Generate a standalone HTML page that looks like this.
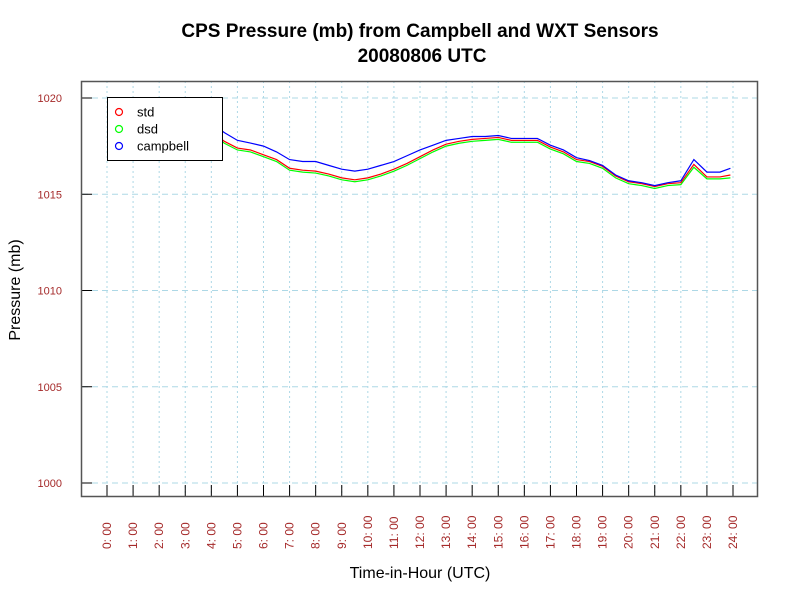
<!DOCTYPE html>
<html><head><meta charset="utf-8"><style>
body{margin:0;background:#fff;}
svg{display:block;font-family:"Liberation Sans",sans-serif;}
</style></head><body>
<svg id="c" width="800" height="600">
<text x="420" y="37" text-anchor="middle" font-size="19" font-weight="bold">CPS Pressure (mb) from Campbell and WXT Sensors</text>
<text x="422" y="62" text-anchor="middle" font-size="19" font-weight="bold">20080806  UTC</text>
<text transform="translate(20,290) rotate(-90)" text-anchor="middle" font-size="16">Pressure (mb)</text>
<text x="420" y="578" text-anchor="middle" font-size="16">Time-in-Hour (UTC)</text>
<g id="grid"></g><g id="series"></g><g id="axes"></g>
</svg>
<script>
const hours=[0,0.5,1,1.5,2,2.5,3,3.4,3.75,4,4.5,5,5.5,6,6.5,7,7.5,8,8.5,9,9.5,10,10.5,11,11.5,12,12.5,13,13.5,14,14.5,15,15.5,16,16.5,17,17.5,18,18.5,19,19.5,20,20.5,21,21.5,22,22.5,23,23.5,23.9];
const campbell=[1018.8,1018.8,1018.7,1018.7,1018.6,1018.6,1018.6,1018.7,1018.8,1018.7,1018.2,1017.8,1017.66,1017.5,1017.2,1016.8,1016.7,1016.7,1016.5,1016.3,1016.2,1016.3,1016.5,1016.7,1017.0,1017.3,1017.55,1017.8,1017.9,1018.0,1018.0,1018.05,1017.9,1017.9,1017.9,1017.55,1017.3,1016.9,1016.75,1016.5,1016.0,1015.7,1015.6,1015.45,1015.6,1015.7,1016.8,1016.15,1016.15,1016.35];
const stdv=[1018.4,1018.4,1018.3,1018.3,1018.2,1018.2,1018.2,1018.25,1018.35,1018.25,1017.75,1017.4,1017.3,1017.05,1016.8,1016.35,1016.25,1016.2,1016.05,1015.85,1015.75,1015.85,1016.05,1016.3,1016.6,1016.95,1017.3,1017.6,1017.75,1017.85,1017.9,1017.95,1017.8,1017.8,1017.8,1017.45,1017.2,1016.8,1016.7,1016.45,1015.95,1015.65,1015.55,1015.4,1015.55,1015.6,1016.55,1015.9,1015.9,1016.0];
const dsdv=[1018.3,1018.3,1018.2,1018.2,1018.1,1018.1,1018.1,1018.15,1018.25,1018.15,1017.65,1017.3,1017.2,1016.95,1016.7,1016.25,1016.15,1016.1,1015.95,1015.75,1015.65,1015.75,1015.95,1016.2,1016.5,1016.85,1017.2,1017.5,1017.65,1017.75,1017.8,1017.85,1017.7,1017.7,1017.7,1017.35,1017.1,1016.7,1016.6,1016.35,1015.85,1015.55,1015.45,1015.3,1015.45,1015.5,1016.4,1015.8,1015.8,1015.85];
const yTicks=[1000,1005,1010,1015,1020];
const xTickHours=[0,1,2,3,4,5,6,7,8,9,10,11,12,13,14,15,16,17,18,19,20,21,22,23,24];
const NS="http://www.w3.org/2000/svg";
const X=h=>107+h*(733-107)/24;
const Y=v=>483-(v-1000)*(483-98)/20;
function mk(t,a,p){const e=document.createElementNS(NS,t);for(const k in a)e.setAttribute(k,a[k]);p.appendChild(e);return e;}
const grid=document.getElementById('grid'),ser=document.getElementById('series'),ax=document.getElementById('axes');
yTicks.forEach(v=>{
 const l=mk('line',{x1:82,x2:758,y1:Y(v),y2:Y(v),stroke:'#add8e6','stroke-dasharray':'6,4'},grid);
 
 
 const t=mk('line',{x1:82,x2:92,y1:Y(v),y2:Y(v),stroke:'#000'},ax);
 
 
 const tx=mk('text',{x:62,y:Y(v)+4,'text-anchor':'end','font-size':11,fill:'#a52a2a'},ax);
 tx.textContent=v;
 
 
});
xTickHours.forEach(h=>{
 const l=mk('line',{x1:X(h),x2:X(h),y1:81,y2:497,stroke:'#add8e6','stroke-dasharray':'2,3'},grid);
 
 
 const t=mk('line',{x1:X(h),x2:X(h),y1:485,y2:497,stroke:'#000'},ax);
 
 
 const tx=mk('text',{transform:`translate(${X(h)+4},549) rotate(-90)`,'font-size':12,fill:'#a52a2a'},ax);
 tx.textContent=h+': 00';
 
 
});
function line(vals,col,name){
 const p=mk('polyline',{points:hours.map((h,i)=>X(h)+','+Y(vals[i])).join(' '),fill:'none',stroke:col,'stroke-width':1.2},ser);
 
 
}
line(dsdv,'#00ff00','dsd-line');line(stdv,'#ff0000','std-line');line(campbell,'#0000ff','campbell-line');
const box=mk('rect',{x:81.5,y:81.5,width:676,height:415,fill:'none',stroke:'#555','stroke-width':1.5},ax);


const lg=mk('g',{},ax);


mk('rect',{x:107.5,y:97.5,width:115,height:63,fill:'#fff',stroke:'#000'},lg);
[['std','#ff0000'],['dsd','#00ff00'],['campbell','#0000ff']].forEach((d,i)=>{
 const g=mk('g',{},lg);
 
 
 mk('circle',{cx:119,cy:112+i*17,r:3.5,fill:'none',stroke:d[1],'stroke-width':1.2},g);
 const t=mk('text',{x:137,y:116.5+i*17,'font-size':13},g);t.textContent=d[0];
});
</script>
</body></html>
